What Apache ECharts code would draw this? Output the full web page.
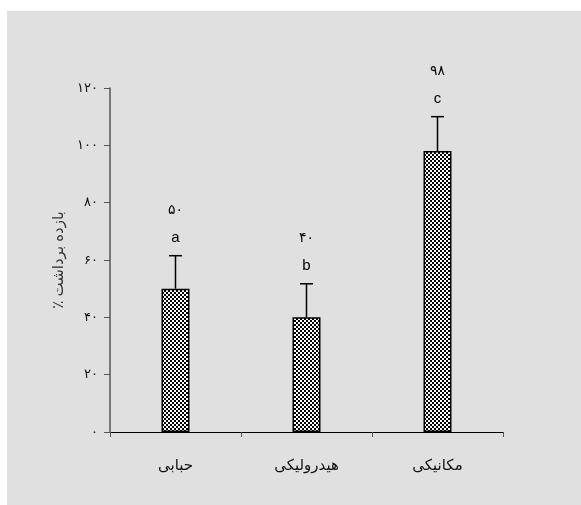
<!DOCTYPE html>
<html>
<head>
<meta charset="utf-8">
<script src="https://cdn.jsdelivr.net/npm/echarts@6/dist/echarts.min.js"></script>
<style>
html,body{margin:0;padding:0;background:#fff;}
#wrap{position:absolute;left:7px;top:11px;width:574px;height:494px;background:#e0e0e0;}
#c{position:absolute;left:0;top:0;width:581px;height:505px;}
</style>
</head>
<body>
<div id="wrap"></div>
<div id="c"></div>
<script>
var categories = ['حبابی', 'هیدرولیکی', 'مکانیکی'];
var values = [50, 40, 98];
var errorTops = [61.5, 51.7, 110];
var letters = ['a', 'b', 'c'];
var valueLabels = ['۵۰', '۴۰', '۹۸'];
var yTickLabels = ['۰', '۲۰', '۴۰', '۶۰', '۸۰', '۱۰۰', '۱۲۰'];
var yAxisTitle = '\u200Fبازده برداشت ٪\u200F';

var FONT = '"Liberation Sans", "DejaVu Sans", Arial, sans-serif';

var pc = document.createElement('canvas');
pc.width = 4; pc.height = 4;
var ctx = pc.getContext('2d');
ctx.fillStyle = '#000'; ctx.fillRect(0, 0, 4, 4);
ctx.fillStyle = '#fff';
ctx.fillRect(0, 0, 2, 2);
ctx.fillRect(2, 2, 2, 2);

var chart = echarts.init(document.getElementById('c'));
chart.setOption({
  backgroundColor: 'transparent',
  animation: false,
  grid: {left: 110, right: 78, top: 88, bottom: 73},
  xAxis: {
    type: 'category',
    data: categories,
    axisLine: {lineStyle: {color: '#000', width: 1}},
    axisTick: {show: true, length: 5, lineStyle: {color: '#555'}},
    axisLabel: {color: '#111', fontSize: 15, fontFamily: FONT, margin: 26}
  },
  yAxis: {
    type: 'value',
    min: 0, max: 120, interval: 20,
    name: yAxisTitle,
    nameLocation: 'middle',
    nameRotate: 90,
    nameGap: 42,
    nameTextStyle: {color: '#333', fontSize: 15, fontFamily: FONT},
    splitLine: {show: false},
    axisLine: {show: true, lineStyle: {color: '#555', width: 1.5}},
    axisTick: {show: true, length: 6, lineStyle: {color: '#555'}},
    axisLabel: {
      color: '#111', fontSize: 13, fontFamily: FONT, margin: 12,
      formatter: function (v) { return yTickLabels[Math.round(v / 20)]; }
    }
  },
  series: [
    {
      type: 'bar',
      data: values,
      barWidth: 28,
      itemStyle: {
        color: {image: pc, repeat: 'repeat'},
        borderColor: '#000',
        borderWidth: 1.5
      },
      z: 2
    },
    {
      type: 'custom',
      data: errorTops.map(function (e, i) { return [i, values[i], e]; }),
      renderItem: function (params, api) {
        var i = api.value(0);
        var base = api.coord([i, api.value(1)]);
        var top = api.coord([i, api.value(2)]);
        var x = base[0];
        return {
          type: 'group',
          children: [
            {type: 'line', shape: {x1: x, y1: base[1], x2: x, y2: top[1]}, style: {stroke: '#000', lineWidth: 1.5}},
            {type: 'line', shape: {x1: x - 6.5, y1: top[1], x2: x + 6.5, y2: top[1]}, style: {stroke: '#000', lineWidth: 1.5}},
            {type: 'text', style: {text: letters[i], x: x, y: top[1] - 18, align: 'center', verticalAlign: 'middle', fill: '#000', font: '15px ' + FONT}},
            {type: 'text', style: {text: valueLabels[i], x: x, y: top[1] - 46, align: 'center', verticalAlign: 'middle', fill: '#000', font: '14px ' + FONT}}
          ]
        };
      },
      z: 3
    }
  ]
});
</script>
</body>
</html>
